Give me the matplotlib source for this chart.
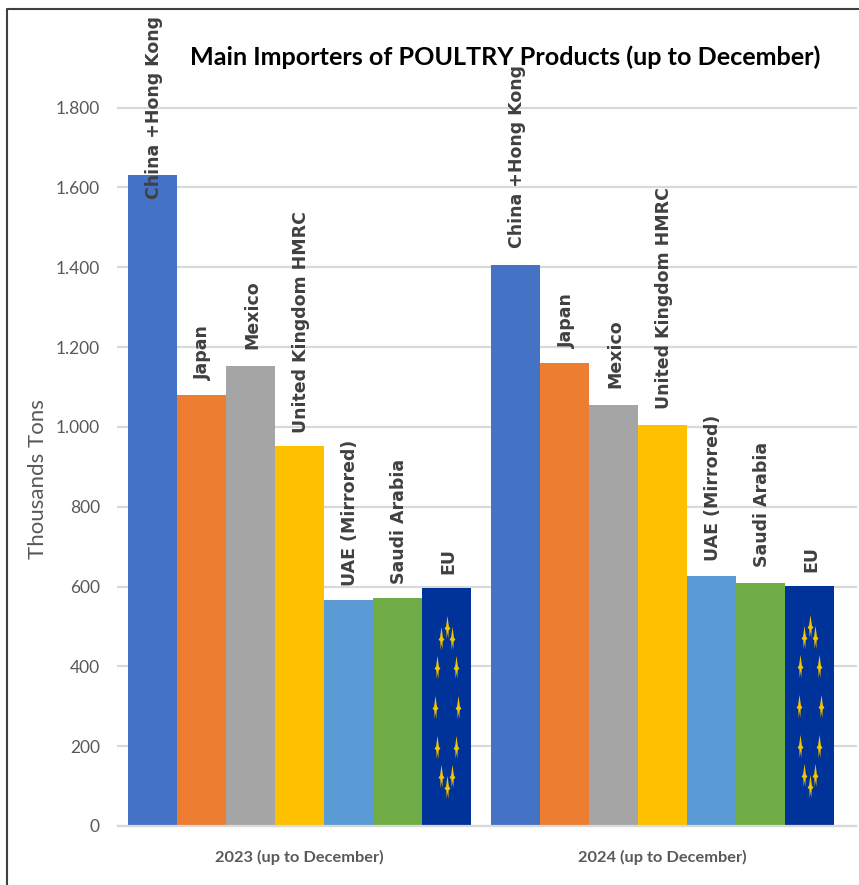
import numpy as np
import matplotlib
matplotlib.use("Agg")
import matplotlib.pyplot as plt
from matplotlib.path import Path
from matplotlib.ticker import FuncFormatter

periods = ["2023 (up to December)", "2024 (up to December)"]
countries = ["China +Hong Kong", "Japan", "Mexico", "United Kingdom HMRC",
             "UAE (Mirrored)", "Saudi Arabia", "EU"]
values_2023 = [1632, 1080, 1153, 953, 567, 570, 595]
values_2024 = [1405, 1160, 1055, 1005, 627, 610, 602]
colors = ["#4472C4", "#ED7D31", "#A5A5A5", "#FFC000", "#5B9BD5", "#70AD47", "#003399"]
label_gaps_2023 = [-24, 15, 17, 13, 14, 14, 14]
label_gaps_2024 = [17, 15, 17, 16, 15, 16, 14]

W, H = 859, 885
fig = plt.figure(figsize=(W / 100, H / 100), dpi=100)

# axes placed in pixels so 0 and 1.800 land on the same rows as the reference
left, right, bottom, top = 118, 856, 826, 107.5
ax = fig.add_axes([left / W, 1 - bottom / H, (right - left) / W, (bottom - top) / H])
ax.set_ylim(0, 1800)
group_w = 363.3 / 49.0
ax.set_xlim(-(299.5 - left) / 49.0, (right - 299.5) / 49.0)

ax.set_yticks(np.arange(0, 1801, 200))
ax.yaxis.set_major_formatter(FuncFormatter(lambda v, p: f"{int(v):,}".replace(",", ".")))
ax.grid(axis="y", color="#D9D9D9", lw=1.6, clip_on=False)
ax.set_axisbelow(True)
for s in ["top", "right", "left"]:
    ax.spines[s].set_visible(False)
ax.spines["bottom"].set_color("#D9D9D9")
ax.spines["bottom"].set_linewidth(1.6)
ax.tick_params(axis="y", length=0, pad=13, labelcolor="#595959")
ax.tick_params(axis="x", length=0, pad=17.5, labelcolor="#595959")
for t in ax.get_yticklabels():
    t.set_fontfamily("Lato")
    t.set_fontsize(12.5)

star = Path([(0, 1), (0.12, 0.1), (0.25, -0.1), (0.1, -0.25), (0.07, -1),
             (0, -0.4), (-0.07, -1), (-0.1, -0.25), (-0.25, -0.1), (-0.12, 0.1), (0, 1)])

for g, (vals, gaps) in enumerate([(values_2023, label_gaps_2023), (values_2024, label_gaps_2024)]):
    center = g * group_w
    xs = center + np.arange(len(vals)) - (len(vals) - 1) / 2
    ax.bar(xs, vals, width=1.0, color=colors, linewidth=0, zorder=2)
    for x, v, name, gap in zip(xs, vals, countries, gaps):
        ax.annotate(name, (x, v), xytext=(1.2, gap * 0.72), textcoords="offset points",
                    rotation=90, ha="center", va="bottom", fontsize=12.5, family="DejaVu Sans",
                    fontweight="bold", color="#404040", zorder=4, annotation_clip=False)
    # ring of stars on the EU bar
    angles = np.deg2rad(np.arange(0, 360, 30))
    ax.scatter(xs[-1] + 0.225 * np.cos(angles), vals[-1] / 2 + 200 * np.sin(angles),
               marker=star, s=280, color="#F5C400", linewidth=0, zorder=3)

ax.set_xticks([0, group_w])
ax.set_xticklabels(periods, fontfamily="Lato", fontweight="bold", fontsize=11.8)

fig.text(38 / W, 1 - 479 / H, "Thousands Tons", rotation=90, ha="center", va="center",
         family="Lato", fontsize=16, color="#595959")
fig.text(505 / W, 1 - 57 / H, "Main Importers of POULTRY Products (up to December)",
         ha="center", va="center", fontfamily="Lato",
         fontweight="bold", fontsize=18.1, color="black")

# outer frame, only top and left show
fig.add_artist(plt.Line2D([6.5 / W, 6.5 / W, 1], [0, 1 - 9 / H, 1 - 9 / H], color="#404040", lw=1.5))

fig.savefig("out.png", dpi=100)
